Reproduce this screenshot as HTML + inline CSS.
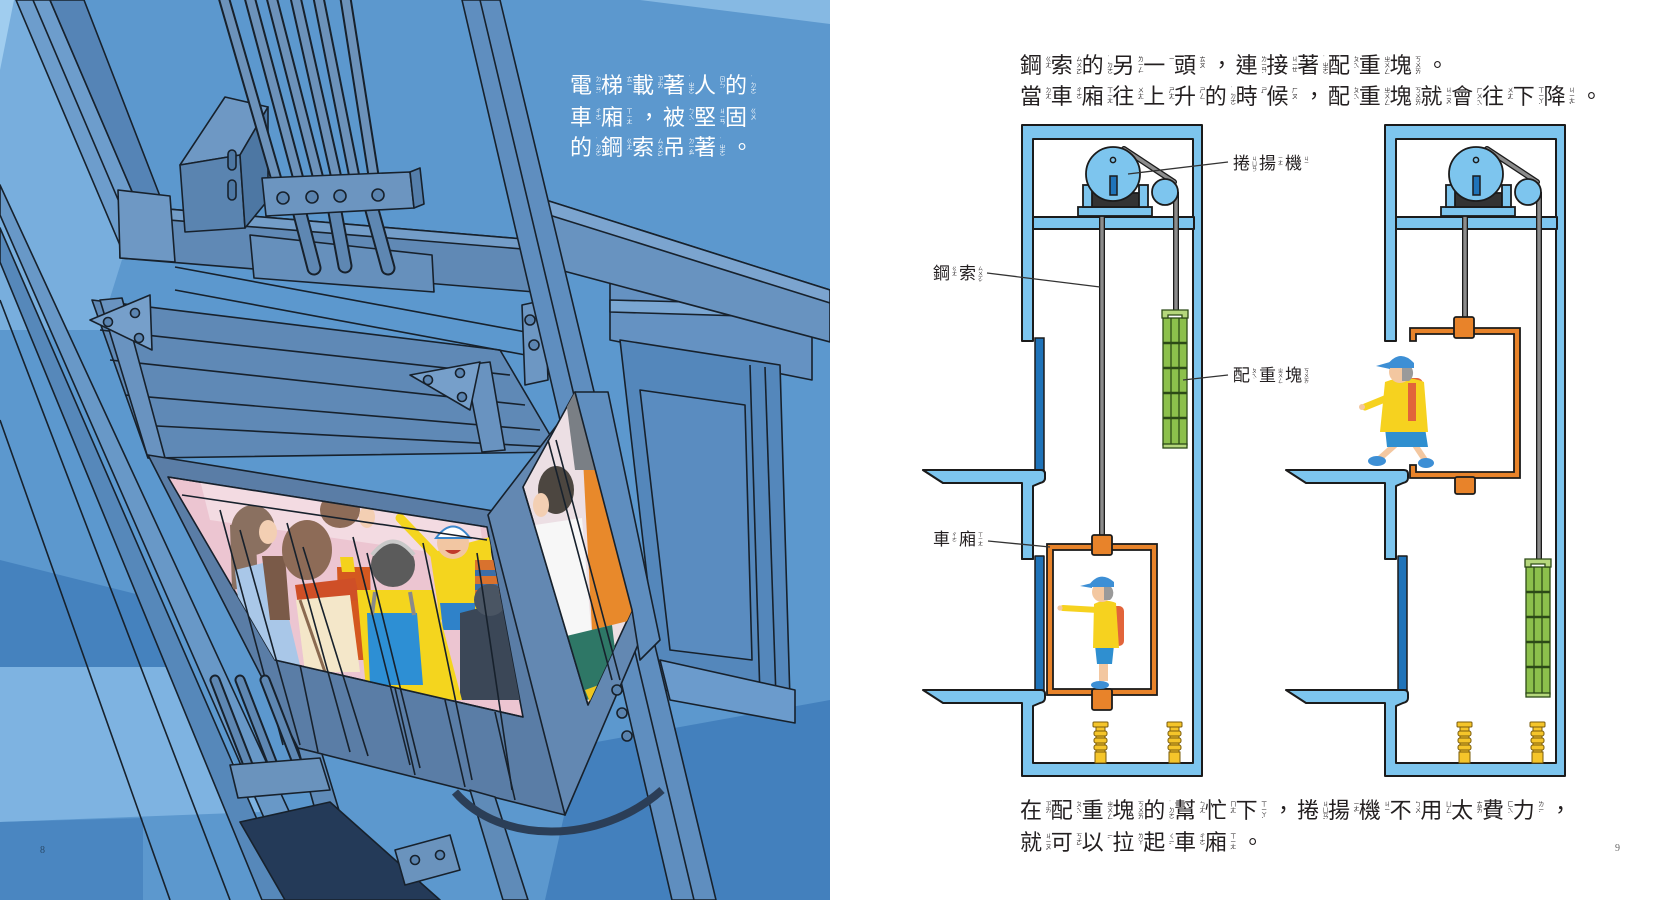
<!DOCTYPE html>
<html><head><meta charset="utf-8">
<style>
html,body{margin:0;padding:0}
body{width:1654px;height:900px;overflow:hidden;background:#fff;position:relative}
svg{position:absolute;left:0;top:0}
.ln{position:absolute;white-space:nowrap;font-family:"Liberation Sans","Noto Sans CJK TC",sans-serif;color:#231f20}
.u{display:inline-block;position:relative;vertical-align:top}
.u.p{text-indent:6px}
.u i{position:absolute;font-style:normal;writing-mode:vertical-rl;text-orientation:upright;white-space:nowrap;text-indent:0}
.big .u{width:30.8px;font-size:22px;line-height:22px;height:22px}
.big .u i{left:23px;top:1px;font-size:6px;line-height:7px}
.lp{color:#fff}
.lp .u{width:31px}
.lab .u{width:26px;font-size:17px;line-height:18px;height:18px}
.lab .u i{left:18px;top:1px;font-size:5px;line-height:6px}
.pn{position:absolute;font-family:"Liberation Serif",serif;font-size:10px}
</style></head>
<body>
<svg width="1654" height="900" viewBox="0 0 1654 900" xmlns="http://www.w3.org/2000/svg">
<defs>
<clipPath id="lpc"><rect x="0" y="0" width="830" height="900"/></clipPath>
<clipPath id="win"><polygon points="168,477 487,527 523,717 275,660"/></clipPath>
<clipPath id="swin"><polygon points="523,487 575,392 632,610 588,705"/></clipPath>
<g id="bf" fill="#f5c52a" stroke="#7a5c0c" stroke-width="1">
<rect x="3" y="727" width="9" height="36"/>
<rect x="2" y="752" width="11" height="11"/>
<rect x="1" y="731" width="13" height="5" rx="2"/>
<rect x="1" y="738" width="13" height="5" rx="2"/>
<rect x="1" y="745" width="13" height="5" rx="2"/>
<rect x="0" y="722" width="15" height="5" rx="1"/>
</g>
<g id="cw" stroke="#2c4a17" stroke-width="1.3">
<rect x="0" y="8" width="24" height="127" fill="#8cc04c"/>
<line x1="8" y1="8" x2="8" y2="135"/>
<line x1="16" y1="8" x2="16" y2="135"/>
<g stroke-width="2.5"><line x1="0" y1="33" x2="24" y2="33"/><line x1="0" y1="58" x2="24" y2="58"/><line x1="0" y1="83" x2="24" y2="83"/><line x1="0" y1="108" x2="24" y2="108"/></g>
<path d="M-1,0 H25 V8 H19 V5 H5 V8 H-1 Z" fill="#b5d77c"/>
<rect x="0" y="134" width="24" height="4" fill="#b5d77c"/>
</g>
<g id="walls" stroke="#1b1b1b" stroke-width="2" stroke-linejoin="round">
<rect x="1035" y="556" width="9" height="134" fill="#1f73b9" stroke-width="1.5"/>
<path d="M1022,125 H1202 V776 H1022 V703 H943 L923,690 H1041 Q1045,690 1045,694 V698 Q1045,702 1040,703 L1033,706 V763 H1193 V139 H1033 V341 H1022 Z" fill="#7dc5ee"/>
<path d="M923,470 H1041 Q1045,470 1045,474 V478 Q1045,482 1040,483 L1033,486 V559 H1022 V483 H943 Z" fill="#7dc5ee"/>
<rect x="1033" y="217" width="161" height="12" fill="#7dc5ee"/>
</g>
<g id="motor" stroke="#1b1b1b" stroke-width="1.8">
<rect x="1078" y="207" width="74" height="9" fill="#7dc5ee"/>
<rect x="1092" y="193" width="47" height="14" fill="#333"/>
<rect x="1083" y="185" width="9" height="22" fill="#7dc5ee"/>
<rect x="1139" y="185" width="9" height="22" fill="#7dc5ee"/>
<line x1="1124" y1="149" x2="1174" y2="182" stroke-width="6" stroke-linecap="round"/>
<line x1="1124" y1="149" x2="1174" y2="182" stroke="#8c8c8c" stroke-width="3.4" stroke-linecap="round"/>
<circle cx="1113" cy="174" r="27" fill="#7dc5ee"/>
<circle cx="1113" cy="160" r="2.6" fill="#7dc5ee" stroke-width="1.5"/>
<rect x="1110" y="176" width="7" height="19" fill="#1f73b9" stroke-width="1.5"/>
<circle cx="1165" cy="192" r="13" fill="#7dc5ee"/>
</g>
</defs>

<!-- ================= LEFT PAGE ================= -->
<g clip-path="url(#lpc)">
<rect x="0" y="0" width="830" height="900" fill="#5c98ce"/>
<polygon points="0,0 16,0 125,250 100,330 0,330" fill="#78aedd"/>
<polygon points="0,0 14,0 0,70" fill="#a0cdef"/>
<polygon points="640,0 830,0 830,24" fill="#86b9e3"/>
<polygon points="0,560 160,600 180,667 0,667" fill="#4582be"/>
<polygon points="0,667 180,667 262,812 0,822" fill="#7eb3e1"/>
<polygon points="0,822 143,818 143,900 0,900" fill="#4a86c1"/>
<polygon points="580,745 830,700 830,900 545,900" fill="#4380bd"/>

<g stroke="#17212c" stroke-width="1.6" stroke-linejoin="round">
<polygon points="0,185 0,215 300,900 330,900" fill="#6898c7"/>
<polygon points="0,228 0,262 262,900 292,900" fill="#5688ba"/>
<line x1="0" y1="300" x2="230" y2="900"/>
<line x1="0" y1="420" x2="170" y2="900"/>
<polygon points="16,0 50,0 152,238 122,250" fill="#6d9dcc"/>
<polygon points="50,0 84,0 170,222 152,238" fill="#5584b6"/>
<line x1="33" y1="0" x2="137" y2="244"/>

<polygon points="610,280 812,287 812,380 610,340" fill="#6592c2"/>
<polygon points="610,300 812,305 812,318 610,312" fill="#7aa6d2"/>
<polygon points="620,340 780,365 790,700 660,690" fill="#5487bb"/>
<polygon points="640,390 745,405 752,660 670,650" fill="#5a8cc0"/>
<line x1="750" y1="365" x2="760" y2="697"/>
<line x1="765" y1="367" x2="776" y2="698"/>
<polygon points="660,660 795,690 795,723 670,700" fill="#6b9bcc"/>

<polygon points="530,195 830,290 830,342 530,262" fill="#6893c0"/>
<polygon points="530,195 830,290 830,303 530,209" fill="#7ba4cf"/>
<polygon points="120,205 535,240 535,292 120,258" fill="#6089b5"/>
<polygon points="120,205 535,240 535,250 120,216" fill="#739dc8"/>
<polygon points="118,190 170,196 175,262 120,258" fill="#6e98c4"/>
<polygon points="250,235 432,255 434,292 254,278" fill="#6690bc"/>

<polygon points="92,300 500,350 560,452 148,458" fill="#5f89b6"/>
<line x1="100" y1="330" x2="510" y2="375"/>
<line x1="110" y1="360" x2="525" y2="405"/>
<line x1="125" y1="395" x2="540" y2="430"/>
<line x1="138" y1="425" x2="552" y2="447"/>
<line x1="175" y1="267" x2="531" y2="333"/>
<line x1="175" y1="290" x2="531" y2="356"/>
<polygon points="100,300 122,298 165,458 148,458" fill="#6993c0"/>
<polygon points="465,365 490,362 505,450 482,452" fill="#6993c0"/>
<polygon points="90,320 150,295 152,350" fill="#769fca"/>
<circle cx="108" cy="322" r="4.5" fill="#5c85b1"/><circle cx="135" cy="313" r="4.5" fill="#5c85b1"/><circle cx="139" cy="338" r="4.5" fill="#5c85b1"/>
<polygon points="410,375 480,362 470,410" fill="#769fca"/>
<circle cx="428" cy="380" r="4.5" fill="#5c85b1"/><circle cx="460" cy="373" r="4.5" fill="#5c85b1"/><circle cx="462" cy="397" r="4.5" fill="#5c85b1"/>
<polygon points="522,305 545,300 548,380 525,385" fill="#6d97c3"/>
<circle cx="530" cy="320" r="5" fill="#5c85b1"/><circle cx="534" cy="345" r="5" fill="#5c85b1"/>

<polygon points="462,0 500,0 716,900 672,900" fill="#5f8ebf"/>
<line x1="480" y1="0" x2="694" y2="900"/>

<polygon points="180,165 225,97 268,107 240,155" fill="#6e98c4"/>
<polygon points="180,165 240,155 245,228 185,232" fill="#5a84b0"/>
<polygon points="240,155 268,107 268,200 245,228" fill="#4d77a3"/>
<rect x="228" y="150" width="8" height="20" rx="4" fill="#4d77a3"/>
<rect x="228" y="180" width="8" height="20" rx="4" fill="#4d77a3"/>
</g>

<g stroke-linecap="round">
<g stroke="#17212c" stroke-width="12">
<line x1="223" y1="-5" x2="278" y2="185"/><line x1="249" y1="-5" x2="300" y2="185"/><line x1="271" y1="-5" x2="320" y2="185"/>
<line x1="295" y1="-5" x2="338" y2="185"/><line x1="318" y1="-5" x2="356" y2="185"/><line x1="345" y1="-5" x2="375" y2="185"/>
</g>
<g stroke="#6c92ba" stroke-width="8">
<line x1="223" y1="-5" x2="278" y2="185"/><line x1="249" y1="-5" x2="300" y2="185"/><line x1="271" y1="-5" x2="320" y2="185"/>
<line x1="295" y1="-5" x2="338" y2="185"/><line x1="318" y1="-5" x2="356" y2="185"/><line x1="345" y1="-5" x2="375" y2="185"/>
</g>
<g stroke="#17212c" stroke-width="15">
<line x1="300" y1="214" x2="314" y2="268"/><line x1="335" y1="212" x2="345" y2="266"/><line x1="372" y1="210" x2="388" y2="268"/>
</g>
<g stroke="#5e87b2" stroke-width="11">
<line x1="300" y1="214" x2="314" y2="268"/><line x1="335" y1="212" x2="345" y2="266"/><line x1="372" y1="210" x2="388" y2="268"/>
</g>
</g>
<g stroke="#17212c" stroke-width="1.6" stroke-linejoin="round">
<polygon points="262,178 410,172 414,208 266,216" fill="#6c95c0"/>
<polygon points="410,172 420,168 424,204 414,208" fill="#557fab"/>
<circle cx="283" cy="198" r="6" fill="#5a83ae"/><circle cx="312" cy="197" r="6" fill="#5a83ae"/>
<circle cx="340" cy="196" r="6" fill="#5a83ae"/><circle cx="378" cy="195" r="6" fill="#5a83ae"/>

<polygon points="148,455 500,512 565,815 298,748" fill="#5a7da6"/>
<polygon points="168,477 487,527 523,717 275,660" fill="#ecc5d1"/>
</g>

<g clip-path="url(#win)">
<polygon points="200,480 480,525 485,560 210,520" fill="#f3dbe2"/>
<ellipse cx="340" cy="510" rx="20" ry="18" fill="#8d6b57"/>
<ellipse cx="367" cy="517" rx="8" ry="11" fill="#f3cfb3"/>
<polygon points="230,525 255,520 258,585 232,590" fill="#8a7060"/>
<ellipse cx="253" cy="530" rx="22" ry="25" fill="#8a7060"/>
<ellipse cx="268" cy="532" rx="9" ry="12" fill="#f3cfb3"/>
<polygon points="235,570 275,560 300,665 245,665" fill="#a9c7e8"/>
<polygon points="262,556 285,556 290,620 270,620" fill="#7a5a48"/>
<polygon points="337,567 370,567 372,660 340,660" fill="#d4581f"/>
<polygon points="340,557 353,557 355,572 342,572" fill="#f4d21c"/>
<ellipse cx="307" cy="550" rx="25" ry="30" fill="#8d6b57"/>
<polygon points="295,585 355,578 360,600 298,605" fill="#cf4f27"/>
<polygon points="296,600 350,595 360,672 305,672" fill="#f4e7c9"/>
<line x1="300" y1="600" x2="325" y2="672" stroke="#8a6a50" stroke-width="3"/>
<polygon points="430,553 490,537 495,610 440,620" fill="#f4d51e"/>
<line x1="440" y1="560" x2="400" y2="518" stroke="#f4d51e" stroke-width="9" stroke-linecap="round"/>
<polygon points="440,603 475,603 475,630 443,630" fill="#2f82c9"/>
<circle cx="453" cy="543" r="16" fill="#f2c6a2"/>
<path d="M436,538 Q453,515 470,538 Z" fill="#ffffff" stroke="#3b87cc" stroke-width="2"/>
<path d="M445,550 Q453,558 461,550" fill="#c0392b"/>
<polygon points="475,560 500,560 500,598 475,598" fill="#d9722e"/>
<rect x="475" y="570" width="25" height="6" fill="#3b6ea8"/><rect x="475" y="584" width="25" height="6" fill="#3b6ea8"/>
<polygon points="460,613 510,600 520,700 460,700" fill="#3b4757"/>
<circle cx="490" cy="600" r="16" fill="#4a5563"/>
<polygon points="357,590 433,590 462,700 367,700" fill="#f4d51e"/>
<polygon points="367,613 417,613 423,685 370,685" fill="#2d8fd4"/>
<path d="M375,592 L372,615 M410,592 L414,615" stroke="#8a8a8a" stroke-width="4"/>
<circle cx="393" cy="565" r="22" fill="#5b5b5b"/>
<path d="M372,555 Q393,528 414,555" fill="none" stroke="#c9c9c9" stroke-width="4"/>
</g>
<g stroke="#17212c" stroke-width="1.6" fill="none">
<line x1="168" y1="477" x2="487" y2="527"/>
<line x1="182" y1="495" x2="487" y2="540"/>
<line x1="220" y1="510" x2="283" y2="745"/>
<line x1="240" y1="530" x2="300" y2="745"/>
<line x1="287" y1="523" x2="350" y2="752"/>
<line x1="303" y1="547" x2="368" y2="756"/>
<line x1="353" y1="537" x2="410" y2="765"/>
<line x1="367" y1="553" x2="420" y2="768"/>
<line x1="423" y1="543" x2="472" y2="780"/>
<line x1="477" y1="553" x2="512" y2="790"/>
<line x1="275" y1="660" x2="523" y2="717"/>
<line x1="300" y1="665" x2="318" y2="752"/>
<line x1="395" y1="688" x2="415" y2="775"/>
<line x1="445" y1="700" x2="465" y2="787"/>
<line x1="495" y1="712" x2="515" y2="800"/>
</g>
<g stroke="#17212c" stroke-width="1.6" stroke-linejoin="round">
<polygon points="488,515 580,395 640,640 565,815" fill="#6388b2"/>
<polygon points="523,487 575,392 632,610 588,705" fill="#ecdfe4"/>
</g>
<g clip-path="url(#swin)">
<ellipse cx="556" cy="490" rx="18" ry="24" fill="#4c4640"/>
<ellipse cx="541" cy="505" rx="8" ry="12" fill="#f3cfb3"/>
<polygon points="582,440 622,460 632,620 592,630" fill="#e8892b"/>
<polygon points="565,392 600,392 600,470 575,470" fill="#7a7f85"/>
<polygon points="535,525 582,518 592,640 545,648" fill="#f7f7f7"/>
<polygon points="550,640 612,625 620,690 570,705" fill="#2e7766"/>
<polygon points="585,690 618,678 616,708 594,712" fill="#efc61f"/>
</g>
<g stroke="#17212c" stroke-width="1.6" stroke-linejoin="round" fill="none">
<line x1="548" y1="440" x2="612" y2="680"/>
<line x1="556" y1="440" x2="620" y2="680"/>
<line x1="523" y1="487" x2="588" y2="705"/>
<polygon points="575,392 608,392 660,640 640,660 632,610" fill="#5f8ebf"/>
<circle cx="617" cy="690" r="5" fill="#5a83ae"/><circle cx="622" cy="713" r="5" fill="#5a83ae"/><circle cx="627" cy="736" r="5" fill="#5a83ae"/>
<polygon points="298,748 322,754 366,900 340,900" fill="#5f8bb8"/>
<polygon points="470,790 495,797 528,900 503,900" fill="#5f8bb8"/>
</g>
<path d="M455,792 C500,845 600,845 662,790" fill="none" stroke="#2b3e57" stroke-width="8"/>
<g stroke-linecap="round">
<g stroke="#17212c" stroke-width="11"><line x1="215" y1="680" x2="250" y2="770"/><line x1="240" y1="680" x2="275" y2="770"/><line x1="265" y1="680" x2="300" y2="770"/></g>
<g stroke="#5e87b2" stroke-width="7"><line x1="215" y1="680" x2="250" y2="770"/><line x1="240" y1="680" x2="275" y2="770"/><line x1="265" y1="680" x2="300" y2="770"/></g>
</g>
<g stroke="#17212c" stroke-width="1.6" stroke-linejoin="round">
<polygon points="240,822 330,802 440,900 285,900" fill="#243a58"/>
<polygon points="230,765 320,758 330,790 238,798" fill="#6a93bd"/>
<polygon points="395,850 450,835 460,870 405,885" fill="#6a93bd"/>
<circle cx="415" cy="860" r="4.5" fill="#5a83ae"/><circle cx="440" cy="855" r="4.5" fill="#5a83ae"/>
</g>
</g>

<!-- ================= RIGHT PAGE DIAGRAMS ================= -->
<g>
<use href="#walls"/>
<rect x="1035" y="338" width="9" height="132" fill="#1f73b9" stroke="#1b1b1b" stroke-width="1.5"/>
<path d="M923,470 H1041 Q1045,470 1045,474 V478 Q1045,482 1040,483 L1033,486 V559 H1022 V483 H943 Z" fill="#7dc5ee" stroke="#1b1b1b" stroke-width="2" stroke-linejoin="round"/>
<g stroke-linecap="butt">
<line x1="1102" y1="190" x2="1102" y2="537" stroke="#1b1b1b" stroke-width="6"/>
<line x1="1102" y1="190" x2="1102" y2="537" stroke="#8c8c8c" stroke-width="3.4"/>
<line x1="1176" y1="192" x2="1176" y2="312" stroke="#1b1b1b" stroke-width="6"/>
<line x1="1176" y1="192" x2="1176" y2="312" stroke="#8c8c8c" stroke-width="3.4"/>
</g>
<use href="#motor"/>
<use href="#cw" x="1163" y="310"/>
<use href="#bf" x="1093"/>
<use href="#bf" x="1167"/>
<g stroke="#1b1b1b" stroke-width="1.8">
<rect x="1047" y="544" width="110" height="151" fill="#e8832a"/>
<rect x="1053" y="550" width="98" height="139" fill="#ffffff"/>
<rect x="1092" y="535" width="20" height="20" rx="2" fill="#e8832a"/>
<rect x="1092" y="689" width="20" height="21" rx="2" fill="#e8832a"/>
</g>
<rect x="1110" y="606" width="14" height="40" rx="5" fill="#e2643a"/>
<rect x="1099" y="660" width="9" height="21" fill="#f3c7a0"/>
<path d="M1095,645 H1114 L1112,664 H1097 Z" fill="#2f8fd0"/>
<path d="M1094,604 Q1105,598 1116,603 L1119,648 H1093 Z" fill="#f6d21f"/>
<line x1="1098" y1="610" x2="1063" y2="608" stroke="#f6d21f" stroke-width="6" stroke-linecap="round"/>
<circle cx="1060" cy="608" r="2.6" fill="#f3c7a0"/>
<circle cx="1102" cy="592" r="10" fill="#f3c7a0"/>
<path d="M1104,584 A9,9 0 0 1 1110,600 L1104,600 Z" fill="#9a9a9a"/>
<path d="M1089,585 Q1100,570 1114,582 L1114,587 H1089 Z" fill="#3d8fd5"/>
<path d="M1080,586 L1092,583 L1092,588 Z" fill="#3d8fd5"/>
<ellipse cx="1100" cy="685" rx="9" ry="4" fill="#3d8fd5"/>
</g>

<g>
<use href="#walls" x="363"/>
<g stroke-linecap="butt">
<line x1="1465" y1="190" x2="1465" y2="320" stroke="#1b1b1b" stroke-width="6"/>
<line x1="1465" y1="190" x2="1465" y2="320" stroke="#8c8c8c" stroke-width="3.4"/>
<line x1="1539" y1="192" x2="1539" y2="562" stroke="#1b1b1b" stroke-width="6"/>
<line x1="1539" y1="192" x2="1539" y2="562" stroke="#8c8c8c" stroke-width="3.4"/>
</g>
<use href="#motor" x="363"/>
<use href="#cw" x="1526" y="559"/>
<use href="#bf" x="1457"/>
<use href="#bf" x="1530"/>
<g stroke="#1b1b1b" stroke-width="1.8">
<path d="M1410,328 H1520 V478 H1410 V465 H1416 V472 H1514 V334 H1416 V341 H1410 Z" fill="#e8832a"/>
<rect x="1454" y="317" width="20" height="21" rx="2" fill="#e8832a"/>
<rect x="1455" y="477" width="20" height="17" rx="2" fill="#e8832a"/>
</g>
<rect x="1403" y="378" width="20" height="45" rx="6" fill="#e2643a"/>
<line x1="1395" y1="445" x2="1378" y2="460" stroke="#f3c7a0" stroke-width="6"/>
<line x1="1415" y1="445" x2="1425" y2="460" stroke="#f3c7a0" stroke-width="6"/>
<path d="M1385,428 H1425 L1428,447 H1387 Z" fill="#2f8fd0"/>
<path d="M1385,382 Q1405,374 1424,382 L1428,432 H1380 Z" fill="#f6d21f"/>
<rect x="1408" y="383" width="8" height="38" fill="#e2643a"/>
<line x1="1392" y1="396" x2="1365" y2="407" stroke="#f6d21f" stroke-width="7" stroke-linecap="round"/>
<circle cx="1362" cy="407" r="3" fill="#f3c7a0"/>
<ellipse cx="1377" cy="461" rx="9" ry="5" fill="#3d8fd5"/>
<ellipse cx="1426" cy="463" rx="8" ry="5" fill="#3d8fd5"/>
<circle cx="1400" cy="372" r="11" fill="#f3c7a0"/>
<path d="M1402,363 A10,10 0 0 1 1409,381 L1402,381 Z" fill="#9a9a9a"/>
<path d="M1387,365 Q1400,348 1414,363 L1414,368 H1387 Z" fill="#3d8fd5"/>
<path d="M1376,366 L1390,362 L1390,369 Z" fill="#3d8fd5"/>
</g>

<g stroke="#333" stroke-width="1.3">
<line x1="1128" y1="174" x2="1228" y2="162"/>
<line x1="987" y1="273" x2="1100" y2="287"/>
<line x1="1183" y1="380" x2="1228" y2="375"/>
<line x1="988" y1="541" x2="1050" y2="547"/>
</g>
</svg>

<div class="ln big lp" style="left:570px;top:75px"><span class="u">電<i>ㄉㄧㄢˋ</i></span><span class="u">梯<i>ㄊㄧ</i></span><span class="u">載<i>ㄗㄞˋ</i></span><span class="u">著<i>˙ㄓㄜ</i></span><span class="u">人<i>ㄖㄣˊ</i></span><span class="u">的<i>˙ㄉㄜ</i></span></div>
<div class="ln big lp" style="left:570px;top:107px"><span class="u">車<i>ㄔㄜ</i></span><span class="u">廂<i>ㄒㄧㄤ</i></span><span class="u p">，</span><span class="u">被<i>ㄅㄟˋ</i></span><span class="u">堅<i>ㄐㄧㄢ</i></span><span class="u">固<i>ㄍㄨˋ</i></span></div>
<div class="ln big lp" style="left:570px;top:137px"><span class="u">的<i>˙ㄉㄜ</i></span><span class="u">鋼<i>ㄍㄤ</i></span><span class="u">索<i>ㄙㄨㄛˇ</i></span><span class="u">吊<i>ㄉㄧㄠˋ</i></span><span class="u">著<i>˙ㄓㄜ</i></span><span class="u p">。</span></div>

<div class="ln big" style="left:1020px;top:55px"><span class="u">鋼<i>ㄍㄤ</i></span><span class="u">索<i>ㄙㄨㄛˇ</i></span><span class="u">的<i>˙ㄉㄜ</i></span><span class="u">另<i>ㄌㄧㄥˋ</i></span><span class="u">一<i>ㄧ</i></span><span class="u">頭<i>ㄊㄡˊ</i></span><span class="u p">，</span><span class="u">連<i>ㄌㄧㄢˊ</i></span><span class="u">接<i>ㄐㄧㄝ</i></span><span class="u">著<i>˙ㄓㄜ</i></span><span class="u">配<i>ㄆㄟˋ</i></span><span class="u">重<i>ㄓㄨㄥˋ</i></span><span class="u">塊<i>ㄎㄨㄞˋ</i></span><span class="u p">。</span></div>
<div class="ln big" style="left:1020px;top:86px"><span class="u">當<i>ㄉㄤ</i></span><span class="u">車<i>ㄔㄜ</i></span><span class="u">廂<i>ㄒㄧㄤ</i></span><span class="u">往<i>ㄨㄤˇ</i></span><span class="u">上<i>ㄕㄤˋ</i></span><span class="u">升<i>ㄕㄥ</i></span><span class="u">的<i>˙ㄉㄜ</i></span><span class="u">時<i>ㄕˊ</i></span><span class="u">候<i>ㄏㄡˋ</i></span><span class="u p">，</span><span class="u">配<i>ㄆㄟˋ</i></span><span class="u">重<i>ㄓㄨㄥˋ</i></span><span class="u">塊<i>ㄎㄨㄞˋ</i></span><span class="u">就<i>ㄐㄧㄡˋ</i></span><span class="u">會<i>ㄏㄨㄟˋ</i></span><span class="u">往<i>ㄨㄤˇ</i></span><span class="u">下<i>ㄒㄧㄚˋ</i></span><span class="u">降<i>ㄐㄧㄤˋ</i></span><span class="u p">。</span></div>

<div class="ln big" style="left:1020px;top:800px"><span class="u">在<i>ㄗㄞˋ</i></span><span class="u">配<i>ㄆㄟˋ</i></span><span class="u">重<i>ㄓㄨㄥˋ</i></span><span class="u">塊<i>ㄎㄨㄞˋ</i></span><span class="u">的<i>˙ㄉㄜ</i></span><span class="u">幫<i>ㄅㄤ</i></span><span class="u">忙<i>ㄇㄤˊ</i></span><span class="u">下<i>ㄒㄧㄚˋ</i></span><span class="u p">，</span><span class="u">捲<i>ㄐㄩㄢˇ</i></span><span class="u">揚<i>ㄧㄤˊ</i></span><span class="u">機<i>ㄐㄧ</i></span><span class="u">不<i>ㄅㄨˋ</i></span><span class="u">用<i>ㄩㄥˋ</i></span><span class="u">太<i>ㄊㄞˋ</i></span><span class="u">費<i>ㄈㄟˋ</i></span><span class="u">力<i>ㄌㄧˋ</i></span><span class="u p">，</span></div>
<div class="ln big" style="left:1020px;top:832px"><span class="u">就<i>ㄐㄧㄡˋ</i></span><span class="u">可<i>ㄎㄜˇ</i></span><span class="u">以<i>ㄧˇ</i></span><span class="u">拉<i>ㄌㄚ</i></span><span class="u">起<i>ㄑㄧˇ</i></span><span class="u">車<i>ㄔㄜ</i></span><span class="u">廂<i>ㄒㄧㄤ</i></span><span class="u p">。</span></div>

<div class="ln lab" style="left:1233px;top:155px"><span class="u">捲<i>ㄐㄩㄢˇ</i></span><span class="u">揚<i>ㄧㄤˊ</i></span><span class="u">機<i>ㄐㄧ</i></span></div>
<div class="ln lab" style="left:933px;top:265px"><span class="u">鋼<i>ㄍㄤ</i></span><span class="u">索<i>ㄙㄨㄛˇ</i></span></div>
<div class="ln lab" style="left:1233px;top:367px"><span class="u">配<i>ㄆㄟˋ</i></span><span class="u">重<i>ㄓㄨㄥˋ</i></span><span class="u">塊<i>ㄎㄨㄞˋ</i></span></div>
<div class="ln lab" style="left:933px;top:531px"><span class="u">車<i>ㄔㄜ</i></span><span class="u">廂<i>ㄒㄧㄤ</i></span></div>

<div class="pn" style="left:40px;top:845px;color:#2a4a6a">8</div>
<div class="pn" style="left:1615px;top:843px;color:#666">9</div>
</body></html>
